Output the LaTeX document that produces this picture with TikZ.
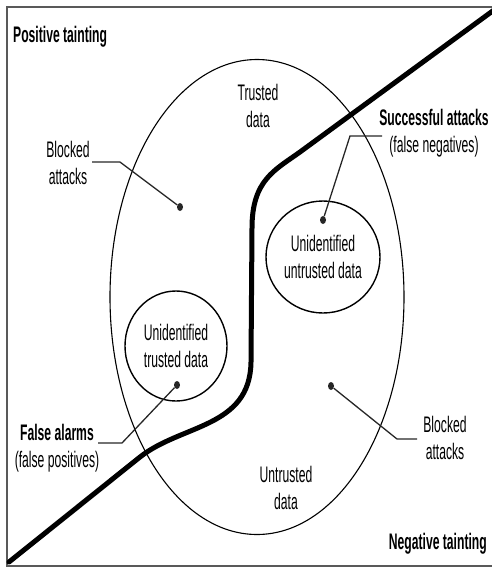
\documentclass[tikz,border=0pt]{standalone}
\usepackage{fontspec}
\setmainfont[FakeStretch=0.54]{Liberation Sans}
\usetikzlibrary{shapes.geometric}
\begin{document}
\begin{tikzpicture}[x=1pt,y=-1pt,
  txt/.style={font=\fontsize{22.5}{27.5}\selectfont, align=center, inner sep=0pt, text=black},
  btxt/.style={font=\fontsize{22.5}{27.5}\selectfont\bfseries, inner sep=0pt, text=black},
  region/.style={draw, ellipse, inner sep=0pt, line width=1.4pt},
  dotmark/.style={fill=black!85, ellipse, inner sep=0pt, minimum width=6pt, minimum height=8pt},
  leader/.style={line width=1.3pt, black!85},
  border/.style={line width=1.3pt, black!65},
  boundary/.style={line width=5pt, line cap=round, line join=round}]
\useasboundingbox (0,0) rectangle (492,568);
% frame
\draw[border] (492,7) -- (7,7) -- (7,566) -- (492,566);
% big ellipse
\node[region, line width=1.1pt, minimum width=294pt, minimum height=475pt] (big) at (257,297) {};
% tainting boundary
\draw[boundary] (9,562) -- (140,457) .. controls (182,424) and (250,428) .. (251,362)
  -- (252,228) .. controls (252,180) and (275,170) .. (300,152) -- (494,10);
% small regions
\node[region, minimum width=114pt, minimum height=112pt, txt] (uu) at (323,257) {Unidentified\\untrusted data};
\node[region, minimum width=102pt, minimum height=110pt, txt] (ut) at (176,346) {Unidentified\\trusted data};
% texts
\node[btxt, anchor=base west] (pos) at (13,42) {Positive tainting};
\node[btxt, anchor=base east] (neg) at (487,549) {Negative tainting};
\node[txt] (trusted) at (258,106) {Trusted\\data};
\node[txt] (untrusted) at (286,488) {Untrusted\\data};
\node[txt] (b1) at (68,163) {Blocked\\attacks};
\node[txt] (b2) at (445,438) {Blocked\\attacks};
\node[txt] (sa) at (434,133) {\bfseries Successful attacks\\(false negatives)};
\node[txt] (fa) at (57,448) {\bfseries False alarms\\(false positives)};
% dots
\node[dotmark] (d1) at (180,207) {};
\node[dotmark] (d2) at (323,220) {};
\node[dotmark] (d3) at (177,385) {};
\node[dotmark] (d4) at (331,386) {};
% leaders
\coordinate (k1) at (92,162);
\coordinate (k2) at (382,136);
\coordinate (k3) at (98,443);
\coordinate (k4) at (417,439);
\draw[leader] (k1) -- ++(28,0) -- (d1);
\draw[leader] (k2) -- ++(-32,0) -- (d2);
\draw[leader] (k3) -- ++(24,0) -- (d3);
\draw[leader] (k4) -- ++(-20,0) -- (d4);
\end{tikzpicture}
\end{document}
